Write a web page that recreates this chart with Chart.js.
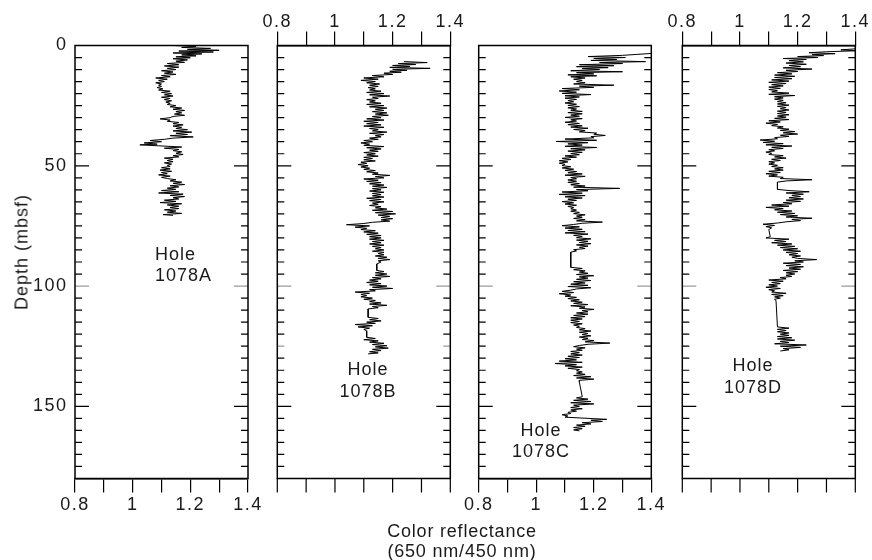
<!DOCTYPE html>
<html>
<head>
<meta charset="utf-8">
<script src="https://cdn.jsdelivr.net/npm/chart.js@4.4.1/dist/chart.umd.min.js"></script>
<style>
  html, body { margin: 0; padding: 0; background: #fff; }
  #wrap { position: relative; width: 872px; height: 560px; font-family: "Liberation Sans", Arial, sans-serif; color: #1a1a1a; }
  #wrap canvas { position: absolute; left: 0; top: 0; }
  .lbl { position: absolute; font-size: 18px; line-height: 21px; letter-spacing: 1px; white-space: nowrap; }
</style>
</head>
<body>
<div id="wrap">
  <canvas id="cA" width="872" height="560"></canvas>
  <canvas id="cB" width="872" height="560"></canvas>
  <canvas id="cC" width="872" height="560"></canvas>
  <canvas id="cD" width="872" height="560"></canvas>
  <div class="lbl" style="left:155px;top:244px;">Hole<br>1078A</div>
  <div class="lbl" style="left:318px;top:358px;width:100px;text-align:center;line-height:22px;">Hole<br>1078B</div>
  <div class="lbl" style="left:491px;top:420px;width:100px;text-align:center;">Hole<br>1078C</div>
  <div class="lbl" style="left:703px;top:354px;width:100px;text-align:center;line-height:22px;">Hole<br>1078D</div>
  <div class="lbl" style="left:22px;top:252px;transform:translate(-50%,-50%) rotate(-90deg);">Depth (mbsf)</div>
  <div class="lbl" style="left:362px;top:521px;width:200px;text-align:center;line-height:20px;letter-spacing:0.8px;">Color reflectance<br>(650 nm/450 nm)</div>
</div>
<script>
// axis ticks
const xTickValues = [0.8, 0.9, 1.0, 1.1, 1.2, 1.3, 1.4];
const xTickLabels = ['0.8', '', '1', '', '1.2', '', '1.4'];
const yTickValues = [0, 50, 100, 150];
const yTickLabels = ['0', '50', '100', '150'];

// Hole 1078A
const depthA = [0,0.4,0.8,1.2,1.6,2,2.3,2.7,3.1,3.5,3.9,4.3,4.7,5.1,5.5,6,6.5,7,7.5,8,8.5,9,9.5,10,10.5,11,11.5,12,12.5,13,13.5,14,14.5,15,15.5,16,16.5,17,17.5,18,18.5,19,19.5,20,20.5,21,21.5,22,22.5,23,23.5,24,24.5,25,25.5,26,26.5,27,27.5,28,28.5,29,29.5,30,30.5,31,31.5,32,32.5,33,33.5,34,34.5,35,35.5,36,36.5,37,37.5,38,38.5,39,39.5,40,40.5,41,41.3,41.7,42.2,42.7,43.2,43.7,44.2,44.8,45.3,45.8,46.3,46.8,47.3,47.8,48.3,48.8,49.3,49.8,50.3,50.8,51.3,51.8,52.3,52.8,53.3,53.8,54.3,54.8,55.3,55.8,56.3,56.8,57.3,57.8,58.3,58.8,59.3,59.8,60.3,60.8,61.3,61.8,62.3,62.8,63.3,63.8,64.3,64.8,65.3,65.8,66.3,66.8,67.3,67.8,68.3,68.8,69.3,69.8,70.3,70.6];
const reflA = [1.14,1.22,1.17,1.27,1.19,1.30,1.16,1.28,1.14,1.24,1.17,1.22,1.15,1.20,1.14,1.19,1.15,1.18,1.12,1.16,1.11,1.16,1.12,1.15,1.10,1.14,1.11,1.15,1.10,1.13,1.08,1.12,1.09,1.11,1.08,1.10,1.09,1.10,1.085,1.105,1.09,1.13,1.10,1.135,1.11,1.14,1.10,1.13,1.11,1.135,1.115,1.13,1.12,1.15,1.13,1.17,1.14,1.18,1.15,1.17,1.145,1.18,1.14,1.13,1.095,1.13,1.12,1.16,1.14,1.175,1.14,1.17,1.15,1.19,1.14,1.205,1.15,1.19,1.13,1.21,1.14,1.11,1.06,1.10,1.04,1.085,1.025,1.09,1.17,1.11,1.16,1.14,1.17,1.15,1.175,1.14,1.16,1.11,1.14,1.12,1.14,1.11,1.135,1.12,1.13,1.10,1.13,1.095,1.135,1.10,1.12,1.09,1.13,1.10,1.12,1.15,1.13,1.17,1.14,1.18,1.13,1.16,1.12,1.15,1.10,1.16,1.09,1.175,1.13,1.18,1.14,1.16,1.11,1.15,1.095,1.17,1.12,1.16,1.13,1.16,1.11,1.15,1.12,1.17,1.105,1.14];

// Hole 1078B
const depthB = [6.7,7.1,7.5,7.9,8.3,8.7,9.1,9.5,9.9,10.3,10.7,11.1,11.5,12,12.5,13,13.5,14,14.5,15,15.5,16,16.5,17,17.5,18,18.5,19,19.5,20,20.5,21,21.5,22,22.5,23,23.5,24,24.5,25,25.5,26,26.5,27,27.5,28,28.5,29,29.5,30,30.5,31,31.5,32,32.5,33,33.5,34,34.5,35,35.5,36,36.5,37,37.5,38,38.5,39,39.5,40,40.5,41,41.5,42,42.5,43,43.5,44,44.5,45,45.5,46,46.5,47,47.5,48,48.5,49,49.5,50,50.5,51,51.5,52,52.5,53,53.5,54,54.5,55,55.5,56,56.5,57,57.5,58,58.5,59,59.5,60,60.5,61,61.5,62,62.5,63,63.5,64,64.5,65,65.5,66,66.5,67,67.5,68,68.5,69,69.5,70,70.5,71,71.5,72,72.5,73,73.5,74,74.5,75,75.5,76,76.5,77,77.5,78,78.5,79,79.5,80,80.5,81,81.5,82,82.5,83,83.5,84,84.5,85,85.5,86,86.5,87,87.5,88,88.5,89,89.5,90,90.8,93.5,94,94.5,95,95.5,96,96.5,97,97.5,98,98.5,99,99.5,100,100.5,101,101.5,102,102.5,103,103.5,104,104.5,105,105.5,106,106.5,107,107.5,108,108.5,109,109.5,113,113.5,114,114.5,115,115.5,116,116.5,117,117.5,118,118.6,121.3,121.8,122.3,122.8,123.3,123.8,124.3,124.8,125.3,125.8,126.3,126.8,127.3,127.8,128.2];
const reflB = [1.24,1.32,1.22,1.28,1.20,1.26,1.19,1.33,1.20,1.25,1.19,1.23,1.17,1.20,1.13,1.17,1.10,1.15,1.09,1.14,1.11,1.155,1.12,1.15,1.115,1.14,1.12,1.16,1.11,1.17,1.12,1.19,1.13,1.15,1.11,1.14,1.12,1.16,1.11,1.17,1.12,1.18,1.14,1.17,1.13,1.18,1.14,1.185,1.13,1.16,1.11,1.17,1.10,1.15,1.11,1.16,1.10,1.17,1.12,1.15,1.13,1.18,1.12,1.17,1.14,1.16,1.12,1.15,1.10,1.13,1.09,1.12,1.10,1.17,1.11,1.16,1.12,1.15,1.10,1.14,1.11,1.15,1.10,1.13,1.10,1.14,1.09,1.11,1.08,1.115,1.09,1.12,1.10,1.14,1.11,1.15,1.13,1.19,1.14,1.17,1.10,1.15,1.11,1.16,1.12,1.17,1.13,1.18,1.13,1.16,1.12,1.17,1.13,1.16,1.13,1.17,1.11,1.16,1.12,1.17,1.13,1.15,1.12,1.16,1.14,1.18,1.13,1.20,1.14,1.21,1.15,1.19,1.16,1.20,1.16,1.19,1.13,1.10,1.04,1.12,1.07,1.11,1.09,1.14,1.10,1.15,1.11,1.16,1.12,1.16,1.12,1.17,1.13,1.16,1.12,1.17,1.13,1.16,1.14,1.17,1.13,1.17,1.15,1.17,1.14,1.18,1.15,1.19,1.15,1.16,1.145,1.145,1.17,1.14,1.18,1.14,1.19,1.13,1.16,1.12,1.15,1.11,1.16,1.12,1.18,1.13,1.20,1.12,1.14,1.07,1.12,1.09,1.11,1.09,1.13,1.10,1.14,1.12,1.16,1.12,1.18,1.13,1.15,1.115,1.115,1.15,1.12,1.16,1.11,1.14,1.07,1.13,1.08,1.12,1.10,1.11,1.11,1.14,1.10,1.15,1.12,1.17,1.13,1.18,1.14,1.185,1.13,1.16,1.12,1.15,1.115];

// Hole 1078C
const depthC = [3.3,3.7,4.1,4.6,5,5.4,5.8,6.2,6.7,7.1,7.5,8,8.4,8.8,9.2,9.6,10,10.5,10.9,11.3,11.8,12.2,12.6,13,13.5,14,14.5,15,15.5,16,16.5,16.9,17.4,17.9,18.4,18.9,19.4,19.9,20.4,20.9,21.4,21.9,22.4,22.9,23.4,23.9,24.4,24.9,25.4,25.9,26.4,26.9,27.4,27.9,28.4,28.9,29.4,29.9,30.4,30.9,31.4,31.9,32.4,32.9,33.4,33.9,34.4,34.9,35.4,35.9,36.4,36.9,37.4,37.9,38.4,38.9,39.4,39.9,40.4,40.9,41.4,41.9,42.4,42.9,43.4,43.9,44.4,44.9,45.4,45.9,46.4,46.9,47.4,47.9,48.4,48.9,49.4,49.9,50.4,50.9,51.4,51.9,52.4,52.9,53.4,53.9,54.4,54.9,55.4,55.9,56.4,56.9,57.4,57.9,58.4,58.9,59.4,59.9,60.4,60.9,61.4,61.9,62.4,62.9,63.4,63.9,64.4,64.9,65.4,65.9,66.4,66.9,67.4,67.9,68.4,68.9,69.4,69.9,70.4,70.9,71.4,71.9,72.4,72.9,73.4,73.9,74.4,74.9,75.4,75.9,76.4,76.9,77.4,77.9,78.4,78.9,79.4,79.9,80.4,80.9,81.4,81.9,82.4,82.9,83.4,83.9,84.4,84.9,85.4,85.9,92.2,92.7,93.2,93.7,94.2,94.7,95.2,95.7,96.2,96.7,97.2,97.7,98.2,98.7,99.2,99.7,100.2,100.7,101.2,101.7,102.2,102.7,103.2,103.7,104.2,104.7,105.2,105.7,106.2,106.7,107.2,107.7,108.2,108.7,109.2,109.7,110.2,110.7,111.2,111.7,112.2,112.7,113.2,113.7,114.2,114.7,115.2,115.7,116.2,116.7,117.2,117.7,118.2,118.7,119.2,119.7,120.2,120.7,121.2,121.7,122.2,122.7,123.2,123.7,124.2,124.7,125.2,125.7,126.2,126.7,127.2,127.7,128.2,128.7,129.2,129.7,130.2,130.7,131.2,131.7,132.2,132.7,133.2,133.7,134.2,134.7,135.2,135.7,136.2,136.7,137.2,137.7,138.2,138.7,139.2,140,146,146.5,147,147.5,148,148.5,149,149.5,150,150.5,151,151.5,152,152.5,153,153.5,154,154.5,155,155.4,155.8,156.3,156.8,157.3,157.8,158.3,158.8,159.3,159.8,160.2];
const reflC = [1.40,1.35,1.30,1.18,1.31,1.20,1.28,1.19,1.38,1.22,1.30,1.15,1.27,1.14,1.25,1.16,1.22,1.12,1.30,1.14,1.20,1.11,1.21,1.12,1.17,1.13,1.16,1.14,1.17,1.13,1.27,1.15,1.20,1.09,1.15,1.08,1.14,1.09,1.19,1.10,1.15,1.10,1.14,1.11,1.13,1.10,1.14,1.11,1.15,1.11,1.14,1.12,1.16,1.11,1.16,1.12,1.15,1.10,1.16,1.12,1.14,1.10,1.15,1.11,1.16,1.12,1.18,1.13,1.17,1.15,1.21,1.20,1.24,1.19,1.20,1.10,1.21,1.07,1.18,1.11,1.16,1.10,1.21,1.12,1.17,1.11,1.16,1.12,1.15,1.10,1.14,1.09,1.12,1.08,1.11,1.08,1.10,1.09,1.12,1.09,1.13,1.10,1.14,1.11,1.16,1.10,1.17,1.12,1.14,1.11,1.14,1.11,1.15,1.12,1.17,1.13,1.29,1.14,1.18,1.09,1.16,1.08,1.17,1.10,1.16,1.11,1.14,1.09,1.13,1.10,1.14,1.11,1.13,1.12,1.14,1.12,1.15,1.13,1.17,1.14,1.16,1.13,1.17,1.14,1.23,1.16,1.13,1.09,1.15,1.10,1.16,1.11,1.17,1.10,1.18,1.13,1.16,1.14,1.19,1.14,1.18,1.15,1.19,1.14,1.18,1.15,1.17,1.13,1.14,1.12,1.12,1.16,1.13,1.17,1.15,1.18,1.14,1.20,1.15,1.18,1.14,1.19,1.13,1.17,1.12,1.18,1.11,1.19,1.14,1.12,1.09,1.13,1.08,1.12,1.10,1.14,1.11,1.15,1.12,1.16,1.13,1.18,1.12,1.17,1.15,1.20,1.16,1.18,1.14,1.18,1.13,1.17,1.12,1.16,1.12,1.15,1.12,1.16,1.13,1.15,1.14,1.17,1.15,1.19,1.15,1.18,1.16,1.19,1.15,1.18,1.16,1.20,1.17,1.256,1.18,1.15,1.13,1.17,1.14,1.16,1.12,1.15,1.12,1.16,1.11,1.15,1.10,1.14,1.08,1.16,1.065,1.14,1.10,1.16,1.11,1.15,1.14,1.16,1.14,1.17,1.13,1.19,1.14,1.20,1.15,1.15,1.16,1.14,1.18,1.13,1.19,1.12,1.20,1.13,1.15,1.12,1.16,1.12,1.14,1.11,1.12,1.09,1.11,1.10,1.18,1.245,1.19,1.23,1.16,1.19,1.14,1.17,1.13,1.16,1.13,1.15];

// Hole 1078D
const depthD = [1.4,1.8,2.2,2.6,3,3.4,3.8,4.2,4.6,5,5.4,5.8,6.3,6.8,7.3,7.8,8.3,8.8,9.3,9.8,10.3,10.8,11.3,11.8,12.3,12.8,13.3,13.8,14.3,14.8,15.3,15.8,16.3,16.8,17.3,17.8,18.3,18.8,19.3,19.8,20.3,20.8,21.3,21.8,22.3,22.8,23.3,23.8,24.3,24.8,25.3,25.8,26.3,26.8,27.3,27.8,28.3,28.8,29.3,29.8,30.3,30.8,31.3,31.8,32.3,32.8,33.3,33.8,34.3,34.8,35.3,35.8,36.3,36.8,37.3,37.8,38.3,38.8,39.3,39.8,40.3,40.8,41.3,41.8,42.3,42.8,43.3,43.8,44.3,44.8,45.3,45.8,46.3,46.8,47.3,47.8,48.3,48.8,49.3,49.8,50.3,50.8,51.3,51.8,52.3,52.8,53.3,53.8,54.3,54.8,55.3,55.8,56.3,56.8,59.8,60.3,60.8,61.3,61.8,62.3,62.8,63.3,63.8,64.3,64.8,65.3,65.8,66.3,66.8,67.3,67.8,68.3,68.8,69.3,69.8,70.3,70.8,71.3,71.8,72.3,72.8,73.3,73.8,74.3,74.8,75.3,75.8,76.5,79.5,80,80.5,81,81.5,82,82.5,83,83.5,84,84.5,85,85.5,86,86.5,87,87.5,88,88.5,89,89.5,90,90.5,91,91.5,92,92.5,93,93.5,94,94.5,95,95.5,96,96.5,97,97.5,98,98.5,99,99.5,100,100.5,101,101.5,102,102.5,103,103.5,104,104.5,105,105.5,106,117,117.5,118,118.5,119,119.5,120,120.5,121,121.5,122,122.5,123,123.5,124,124.5,125,125.5,126,126.5,127];
const reflD = [1.40,1.35,1.40,1.30,1.24,1.33,1.25,1.29,1.20,1.27,1.15,1.23,1.17,1.22,1.16,1.23,1.17,1.21,1.15,1.25,1.16,1.20,1.13,1.18,1.12,1.19,1.12,1.18,1.11,1.17,1.10,1.16,1.11,1.15,1.10,1.14,1.10,1.13,1.11,1.17,1.10,1.19,1.12,1.15,1.12,1.15,1.13,1.16,1.13,1.17,1.13,1.16,1.14,1.17,1.13,1.16,1.13,1.17,1.13,1.16,1.12,1.17,1.10,1.14,1.09,1.13,1.11,1.15,1.13,1.17,1.14,1.19,1.15,1.20,1.14,1.17,1.12,1.13,1.07,1.12,1.08,1.15,1.09,1.18,1.11,1.15,1.10,1.12,1.09,1.11,1.10,1.15,1.12,1.16,1.11,1.14,1.10,1.12,1.10,1.13,1.11,1.15,1.12,1.15,1.10,1.14,1.09,1.13,1.10,1.15,1.14,1.25,1.16,1.13,1.13,1.17,1.24,1.16,1.22,1.18,1.21,1.17,1.22,1.16,1.21,1.15,1.18,1.11,1.17,1.09,1.15,1.12,1.18,1.13,1.19,1.14,1.20,1.16,1.25,1.18,1.21,1.16,1.13,1.08,1.12,1.09,1.11,1.10,1.105,1.09,1.17,1.12,1.16,1.11,1.18,1.13,1.19,1.14,1.20,1.15,1.21,1.16,1.20,1.17,1.21,1.18,1.20,1.266,1.19,1.22,1.15,1.21,1.16,1.22,1.17,1.21,1.15,1.20,1.16,1.19,1.16,1.18,1.14,1.16,1.10,1.15,1.11,1.14,1.10,1.13,1.09,1.14,1.10,1.12,1.11,1.16,1.11,1.15,1.12,1.14,1.12,1.125,1.13,1.17,1.13,1.16,1.13,1.17,1.14,1.17,1.13,1.18,1.13,1.19,1.14,1.17,1.12,1.23,1.14,1.21,1.15,1.17,1.14];

const W = 872, H = 560;
const TOP = 45.5, BOTTOM = 478.5;   // plot box, px
const AXIS_H = 40, Y_AXIS_W = 55;
const FONT = '"Liberation Sans", Arial, sans-serif';

const panels = [
  { id: 'cA', depth: depthA, refl: reflA, left: 75, right: 248, xPos: 'bottom', showY: true, oppTicks: false, grey: [100] },
  { id: 'cB', depth: depthB, refl: reflB, left: 277.3, right: 450.3, xPos: 'top', showY: false, oppTicks: true, grey: [100, 125] },
  { id: 'cC', depth: depthC, refl: reflC, left: 478.7, right: 651.3, xPos: 'bottom', showY: false, oppTicks: false, grey: [100] },
  { id: 'cD', depth: depthD, refl: reflD, left: 682.3, right: 855.3, xPos: 'top', showY: false, oppTicks: true, grey: [100] }
];

// frame, inward depth ticks, unlabeled ticks on the opposite side
function framePlugin(p) {
  return {
    id: 'frame',
    beforeDraw(chart) { chart.ctx.letterSpacing = '1.5px'; },
    afterDraw(chart) {
      const ctx = chart.ctx, a = chart.chartArea, x = chart.scales.x, y = chart.scales.y;
      ctx.save();
      ctx.lineWidth = 1.2;
      for (let d = 5; d < 180; d += 5) {
        const py = y.getPixelForValue(d);
        const len = yTickValues.includes(d) ? 14 : 7;
        ctx.strokeStyle = p.grey.includes(d) ? '#9a9a9a' : '#000';
        ctx.beginPath();
        ctx.moveTo(a.left, py); ctx.lineTo(a.left + len, py);
        ctx.moveTo(a.right, py); ctx.lineTo(a.right - len, py);
        ctx.stroke();
      }
      if (p.oppTicks) {
        ctx.strokeStyle = '#000';
        ctx.beginPath();
        xTickValues.forEach(v => {
          const px = x.getPixelForValue(v);
          ctx.moveTo(px, a.bottom); ctx.lineTo(px, a.bottom + 14);
        });
        ctx.stroke();
      }
      ctx.lineWidth = 1.5;
      ctx.strokeStyle = '#000';
      ctx.strokeRect(a.left, a.top, a.right - a.left, a.bottom - a.top);
      ctx.restore();
    }
  };
}

function makePanel(p) {
  const points = p.depth.map((d, i) => ({ x: p.refl[i], y: d }));
  const padding = {
    left: p.showY ? p.left - Y_AXIS_W : p.left,
    right: W - p.right,
    top: p.xPos === 'top' ? TOP - AXIS_H : TOP,
    bottom: p.xPos === 'bottom' ? (H - BOTTOM) - AXIS_H : H - BOTTOM
  };
  return new Chart(document.getElementById(p.id), {
    type: 'scatter',
    data: {
      datasets: [{
        data: points,
        showLine: true,
        borderColor: '#000',
        borderWidth: 1,
        pointRadius: 0
      }]
    },
    options: {
      responsive: false,
      animation: false,
      events: [],
      layout: { padding: padding },
      plugins: { legend: { display: false }, tooltip: { enabled: false } },
      scales: {
        x: {
          type: 'linear',
          position: p.xPos,
          min: 0.8,
          max: 1.4,
          afterBuildTicks: s => { s.ticks = xTickValues.map(v => ({ value: v })); },
          afterFit: s => { s.height = AXIS_H; },
          ticks: {
            autoSkip: false,
            maxRotation: 0,
            padding: p.xPos === 'bottom' ? 3.5 : 0,
            color: '#1a1a1a',
            font: { family: FONT, size: 18, lineHeight: 1 },
            callback: (v, i) => xTickLabels[i]
          },
          grid: { drawOnChartArea: false, drawTicks: true, tickLength: 14, color: '#000', lineWidth: 1.2 },
          border: { display: true, color: '#000', width: 1.5 }
        },
        y: {
          type: 'linear',
          display: p.showY,
          reverse: true,
          min: 0,
          max: 180,
          afterBuildTicks: s => { s.ticks = yTickValues.map(v => ({ value: v })); },
          afterFit: s => { if (p.showY) s.width = Y_AXIS_W; },
          ticks: {
            padding: 7.5,
            color: '#1a1a1a',
            font: { family: FONT, size: 18, lineHeight: 1 },
            callback: (v, i) => yTickLabels[i]
          },
          grid: { display: false, drawTicks: false },
          border: { display: false }
        }
      }
    },
    plugins: [framePlugin(p)]
  });
}

panels.forEach(makePanel);
</script>
</body>
</html>
